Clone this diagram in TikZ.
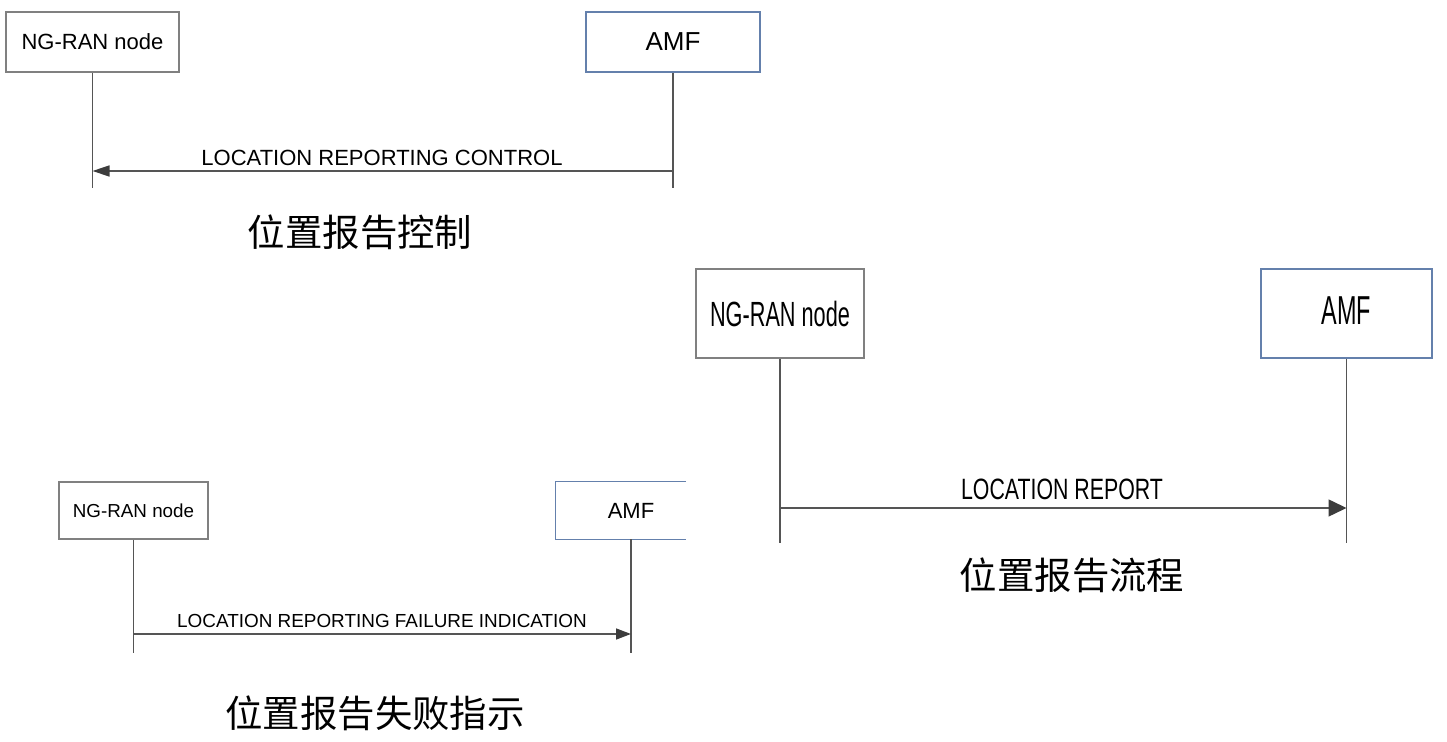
\documentclass[tikz,border=0pt]{standalone}
\usepackage{fontspec}
\usepackage{graphicx}
\setmainfont{Liberation Sans}
\newfontfamily\cjk{Noto Sans CJK SC}
\usetikzlibrary{arrows.meta}
\definecolor{boxgray}{RGB}{128,128,128}
\definecolor{amfblue}{RGB}{100,128,172}
\definecolor{linegray}{RGB}{85,85,85}
\definecolor{tipgray}{RGB}{60,60,60}
\newcommand{\fs}[1]{\fontsize{#1}{#1}\selectfont}
\newcommand{\narrow}[2]{\scalebox{#1}[1]{#2}}

\begin{document}
\begin{tikzpicture}[x=0.5pt,y=-0.5pt,
    ran/.style={draw=boxgray,line width=0.8pt,inner sep=0pt},
    amf/.style={draw=amfblue,line width=0.8pt,inner sep=0pt},
    life/.style={draw=linegray,line width=0.6pt},
    msg/.style={draw=linegray,line width=0.75pt},
    captext/.style={inner sep=0pt,font=\cjk\fs{18.7}}]
    \useasboundingbox (0,0) rectangle (1447,742);

    \node[ran,minimum width=86.5pt,minimum height=30pt,font=\fs{11}] (ranA) at (92.5,42) {NG-RAN node};
    \node[amf,minimum width=87pt,minimum height=30pt,font=\fs{13}] (amfA) at (673,42) {AMF};
    \coordinate (endA) at (0,188);
    \coordinate (msgA) at (0,171);
    \node[inner sep=0pt,font=\fs{11}] (lblA) at (382,158) {LOCATION REPORTING CONTROL};
    \node[captext] (capA) at (360,232) {位置报告控制};

    \draw[life] (ranA.south) -- (ranA.south |- endA);
    \draw[life] (amfA.south) -- (amfA.south |- endA);
    \draw[msg,-{Triangle[length=8.5pt,width=5.5pt,color=tipgray]}] (amfA.south |- msgA) -- (ranA.south |- msgA);

    \node[ran,minimum width=84pt,minimum height=44.5pt,font=\fs{17.5}] (ranB) at (780,313.5) {\narrow{0.62}{NG-RAN node}};
    \node[amf,minimum width=85.5pt,minimum height=44.5pt,font=\fs{20.2}] (amfB) at (1346.5,313.5) {\raisebox{3pt}{\narrow{0.58}{AMF}}};
    \coordinate (endB) at (0,543);
    \coordinate (msgB) at (0,508);
    \node[inner sep=0pt,font=\fs{14.7}] (lblB) at (1062,489) {\narrow{0.725}{LOCATION REPORT}};
    \node[captext] (capB) at (1072,575) {位置报告流程};

    \draw[life] (ranB.south) -- (ranB.south |- endB);
    \draw[life] (amfB.south) -- (amfB.south |- endB);
    \draw[msg,-{Triangle[length=9pt,width=8.5pt,color=tipgray]}] (ranB.south |- msgB) -- (amfB.south |- msgB);

    \node[ran,minimum width=74.5pt,minimum height=28.5pt,font=\fs{9.4}] (ranC) at (133.5,510.5) {NG-RAN node};
    \node[inner sep=0pt,minimum width=75pt,minimum height=28.5pt,font=\fs{11}] (amfC) at (631,510.5) {AMF};
    \coordinate (cutC) at (686,0);
    \coordinate (endC) at (0,653);
    \coordinate (msgC) at (0,634);
    \node[inner sep=0pt,font=\fs{9.45}] (lblC) at (382,621) {LOCATION REPORTING FAILURE INDICATION};
    \node[captext] (capC) at (375,713) {位置报告失败指示};

    \draw[draw=amfblue,line width=0.8pt] (cutC |- amfC.north) -- (amfC.north west) -- (amfC.south west) -- (cutC |- amfC.south);
    \draw[life] (ranC.south) -- (ranC.south |- endC);
    \draw[life] (amfC.south) -- (amfC.south |- endC);
    \draw[msg,-{Triangle[length=7.5pt,width=5.5pt,color=tipgray]}] (ranC.south |- msgC) -- (amfC.south |- msgC);
  \end{tikzpicture}
\end{document}
